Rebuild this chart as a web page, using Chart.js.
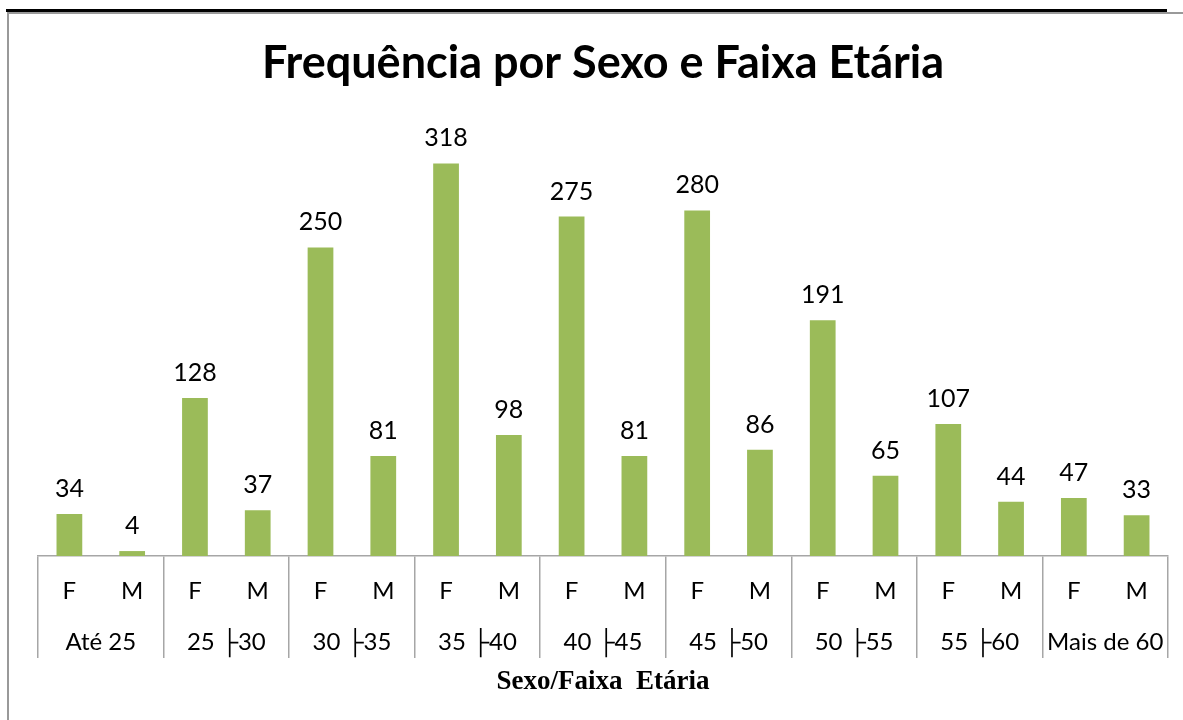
<!DOCTYPE html>
<html>
<head>
<meta charset="utf-8">
<script src="https://cdn.jsdelivr.net/npm/chart.js@4/dist/chart.umd.min.js"></script>
<style>
  html, body { margin: 0; padding: 0; background: #fff; width: 1183px; height: 720px; overflow: hidden; }
  #topline { position: absolute; left: 6px; top: 9px; width: 1161px; height: 3px; background: #000; }
  #frame { position: absolute; left: 7px; top: 12px; width: 1200px; height: 800px; border-left: 2px solid #999; border-top: 2px solid #999; }
  #wrap { position: absolute; left: 0; top: 0; width: 1183px; height: 720px; }
</style>
</head>
<body>
<div id="topline"></div>
<div id="frame"></div>
<div id="wrap"><canvas id="c" width="1183" height="720"></canvas></div>
<script>
const sexLabels = ['F','M','F','M','F','M','F','M','F','M','F','M','F','M','F','M','F','M'];
const ageGroups = ['Até 25', '25 \u251C30', '30 \u251C35', '35 \u251C40', '40 \u251C45', '45 \u251C50', '50 \u251C55', '55 \u251C60', 'Mais de 60'];
const frequencies = [34, 4, 128, 37, 250, 81, 318, 98, 275, 81, 280, 86, 191, 65, 107, 44, 47, 33];
const titleText = 'Frequência por Sexo e Faixa Etária';
const axisTitle = 'Sexo/Faixa  Etária';

const labelFont = 'Lato, "Open Sans", sans-serif';

const valueLabels = {
  id: 'valueLabels',
  afterDatasetsDraw(chart) {
    const ctx = chart.ctx;
    const meta = chart.getDatasetMeta(0);
    ctx.save();
    ctx.font = '25px ' + labelFont;
    ctx.fillStyle = '#000';
    ctx.textAlign = 'center';
    ctx.textBaseline = 'alphabetic';
    meta.data.forEach((bar, i) => {
      ctx.fillText(String(chart.data.datasets[0].data[i]), bar.x, bar.y - 17);
    });
    ctx.restore();
  }
};

new Chart(document.getElementById('c'), {
  type: 'bar',
  data: {
    labels: sexLabels,
    datasets: [{
      data: frequencies,
      backgroundColor: '#9BBB59',
      borderWidth: 0,
      barPercentage: 0.41,
      categoryPercentage: 1.0
    }]
  },
  options: {
    responsive: false,
    animation: false,
    devicePixelRatio: 1,
    layout: { padding: { left: 38, right: 15, top: 0, bottom: 8 } },
    plugins: {
      legend: { display: false },
      tooltip: { enabled: false },
      title: {
        display: true,
        text: titleText,
        color: '#000',
        font: { family: labelFont, size: 45, weight: 'bold' },
        padding: { top: 36, bottom: 34 }
      }
    },
    scales: {
      y: { display: false, min: 0, max: 350 },
      x: {
        position: 'bottom',
        offset: true,
        grid: {
          display: true,
          offset: true,
          drawOnChartArea: false,
          drawTicks: true,
          tickLength: 102,
          lineWidth: 1.5,
          color: (c) => (c.index === undefined || c.index % 2 === 0) ? '#a6a6a6' : 'rgba(0,0,0,0)'
        },
        border: { display: true, color: '#a6a6a6', width: 1.5 },
        ticks: { color: '#000', font: { family: labelFont, size: 24 }, padding: -81, maxRotation: 0, autoSkip: false },
        afterFit: (s) => { s.height = 47; }
      },
      x2: {
        type: 'category',
        labels: ageGroups,
        position: 'bottom',
        offset: true,
        grid: { display: true, drawOnChartArea: false, drawTicks: true, tickLength: 25, color: 'rgba(0,0,0,0)' },
        border: { display: false },
        ticks: { color: '#000', font: { family: labelFont, size: 24 }, padding: 0, maxRotation: 0, autoSkip: false },
        title: {
          display: true,
          text: axisTitle,
          color: '#000',
          font: { family: '"Liberation Serif", "Times New Roman", serif', size: 27, weight: 'bold' },
          padding: { top: 4, bottom: 14 }
        },
        afterFit: (s) => { s.height = 109; }
      }
    }
  },
  plugins: [valueLabels]
});
</script>
</body>
</html>
